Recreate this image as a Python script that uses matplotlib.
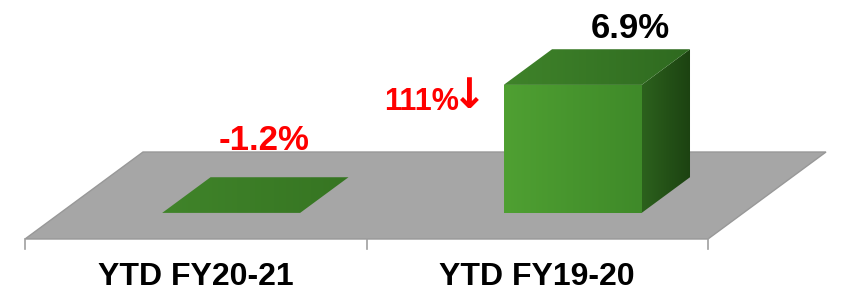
import numpy as np
import matplotlib
matplotlib.use("Agg")
import matplotlib.pyplot as plt
from matplotlib.patches import Polygon
from matplotlib.colors import LinearSegmentedColormap

# datos
categorias = ["YTD FY20-21", "YTD FY19-20"]
valores = [-1.2, 6.9]
etiquetas = ["-1.2%", "6.9%"]
colores_etiqueta = ["#ff0000", "#000000"]
cambio = "111%"

# geometria (pixeles / unidades)
PX_X = 341.5          # px por categoria
PX_Y = 18.55          # px por punto porcentual
W, H = 841, 292
X0_PX, Y0_PX = 25, 53  # esquina frontal izquierda del piso (desde abajo)
DX, DY = 118 / PX_X, 87 / PX_Y   # profundidad del piso
Z0, Z1 = 0.30, 0.71              # profundidad de las barras
MEDIO = 0.202                    # media anchura de barra
FUENTE = ["Liberation Sans", "DejaVu Sans"]

def proy(x, y, z):
    return (x + z * DX, y + z * DY)

def degradado(ax, verts, c1, c2, vertical=False):
    verts = np.array(verts)
    poly = Polygon(verts, closed=True, facecolor="none", edgecolor="none")
    ax.add_patch(poly)
    cmap = LinearSegmentedColormap.from_list("g", [c1, c2])
    grad = np.linspace(0, 1, 64)
    img = grad[:, None] if vertical else grad[None, :]
    im = ax.imshow(img, cmap=cmap, aspect="auto", origin="upper",
                   extent=(verts[:, 0].min(), verts[:, 0].max(),
                           verts[:, 1].min(), verts[:, 1].max()), zorder=3)
    im.set_clip_path(poly)

fig = plt.figure(figsize=(W / 100, H / 100), dpi=100)
ax = fig.add_axes([0, 0, 1, 1])
xmin = -0.5 - X0_PX / PX_X
ymin = -Y0_PX / PX_Y
ax.set_xlim(xmin, xmin + W / PX_X)
ax.set_ylim(ymin, ymin + H / PX_Y)
ax.axis("off")

# piso
n = len(categorias)
piso = [proy(-0.5, 0, 0), proy(n - 0.5, 0, 0), proy(n - 0.5, 0, 1), proy(-0.5, 0, 1)]
ax.add_patch(Polygon(piso, closed=True, facecolor="#a6a6a6", edgecolor="#989898", lw=1, zorder=1))

# marcas del eje
for t in np.arange(-0.5, n, 1.0):
    ax.plot([t, t], [0, -10 / PX_Y], color="#a0a0a0", lw=1.2, zorder=1)

for i, v in enumerate(valores):
    h = max(v, 0)
    xl, xr = i - MEDIO, i + MEDIO
    if h == 0:
        tapa = [proy(xl, 0, Z0), proy(xr, 0, Z0), proy(xr, 0, Z1), proy(xl, 0, Z1)]
        degradado(ax, tapa, "#40842a", "#367522")
    else:
        frente = [proy(xl, 0, Z0), proy(xr, 0, Z0), proy(xr, h, Z0), proy(xl, h, Z0)]
        lado = [proy(xr, 0, Z0), proy(xr, 0, Z1), proy(xr, h, Z1), proy(xr, h, Z0)]
        tapa = [proy(xl, h, Z0), proy(xr, h, Z0), proy(xr, h, Z1), proy(xl, h, Z1)]
        degradado(ax, frente, "#4fa032", "#3f8a29")
        degradado(ax, lado, "#2c611d", "#1c4211")
        degradado(ax, tapa, "#3f832a", "#2f6a20")

    # etiqueta de valor
    bx, by = proy(i, h, Z1)
    desp = (-11, 19.5) if h == 0 else (6.5, 8)
    ax.annotate(etiquetas[i], (bx, by), xytext=desp,
                textcoords="offset points", ha="center", va="baseline",
                fontsize=25, fontweight="bold", color=colores_etiqueta[i],
                family=FUENTE, zorder=5)

    # categoria
    ax.annotate(categorias[i], (i, 0), xytext=(0, -27.5), textcoords="offset points",
                ha="center", va="center", fontsize=23, fontweight="bold",
                family=FUENTE, color="black")

# cambio porcentual
fx, fy = proy(1 - MEDIO, valores[1], Z0)
ax.annotate(cambio, (fx, fy), xytext=(-32.5, -18), textcoords="offset points",
            ha="right", va="baseline", fontsize=22, fontweight="bold", color="#ff0000",
            family=["Liberation Sans Narrow", "Liberation Sans", "DejaVu Sans"])
ax.annotate("\u2193", (fx, fy), xytext=(-25, -8), textcoords="offset points",
            ha="center", va="center", fontsize=30, fontweight="bold", color="#ff0000",
            family=["DejaVu Sans"])

fig.savefig("out.png", dpi=100)
